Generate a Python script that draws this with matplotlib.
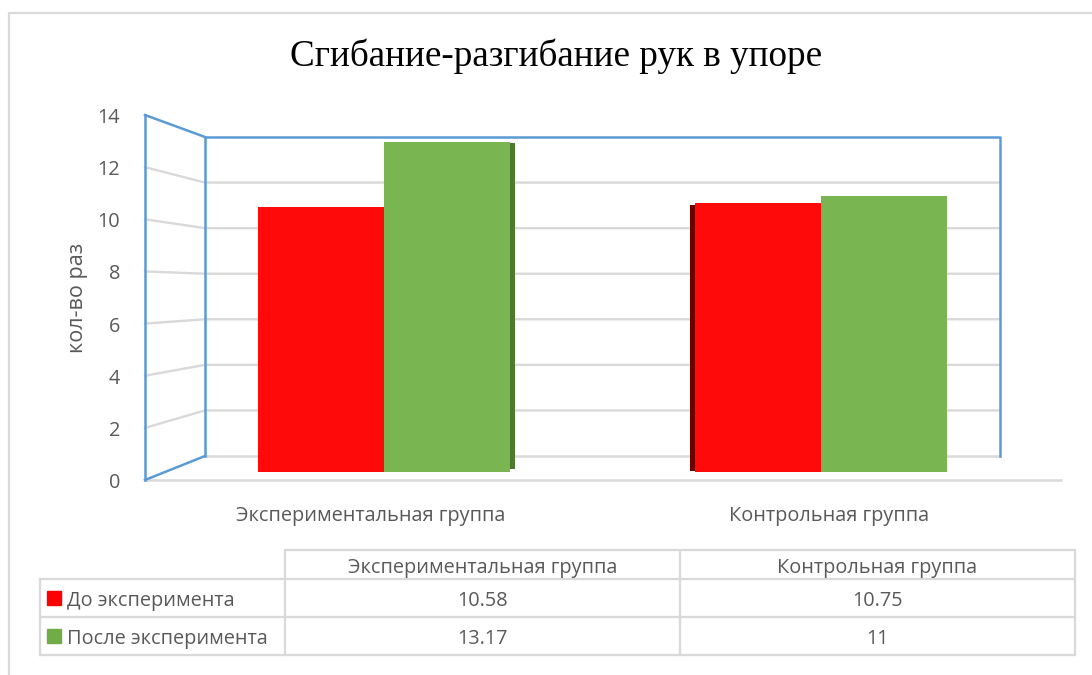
import matplotlib
matplotlib.use("Agg")
import matplotlib.pyplot as plt
from matplotlib.lines import Line2D
from matplotlib.patches import Rectangle

# ---------------- data ----------------
categories = ['Экспериментальная группа', 'Контрольная группа']
series_names = ['До эксперимента', 'После эксперимента']
before = [10.58, 10.75]
after = [13.17, 11]
before_labels = ['10.58', '10.75']
after_labels = ['13.17', '11']
yticks = [0, 2, 4, 6, 8, 10, 12, 14]
title = 'Сгибание-разгибание рук в упоре'
ylabel = 'кол-во раз'

# ---------------- style ----------------
W, H = 1092, 675
RED = '#FE0A0A'
RED_KEY = '#FF0000'
RED_DARK = '#6E0000'
GREEN = '#79B551'
GREEN_KEY = '#70AD47'
GREEN_DARK = '#4E7A30'
BLUE = '#5B9BD5'
GRID = '#D9D9D9'
TXT = '#595959'
FONT = ['Open Sans', 'DejaVu Sans']
FS = 14.3
DY = 3   # vertical text offset (pixels) to match reference baseline

plt.rcParams['font.family'] = FONT

fig = plt.figure(figsize=(W / 100, H / 100), dpi=100)
fig.patch.set_facecolor('white')

# pixel-space background axes
bg = fig.add_axes([0, 0, 1, 1])
bg.set_xlim(0, W)
bg.set_ylim(H, 0)
bg.axis('off')

# perspective geometry (pixels)
FX = 145          # front-left edge x
BX0, BX1 = 205, 1000   # back wall x-range
FRONT0, FRONT14 = 480, 115
BACK0, BACK14 = 456, 137
YMAX = 14


def yf(v):
    return FRONT0 - (FRONT0 - FRONT14) * v / YMAX


def yb(v):
    return BACK0 - (BACK0 - BACK14) * v / YMAX


# outer chart border
bg.add_line(Line2D([9, 9, W], [H, 13, 13], color=GRID, lw=1.6))

# gridlines
for v in yticks[1:-1]:
    bg.add_line(Line2D([FX, BX0, BX1], [yf(v), yb(v), yb(v)], color=GRID, lw=1.7, zorder=1))
# floor
bg.add_line(Line2D([FX, 1061], [yf(0), yf(0)], color=GRID, lw=1.8, zorder=1))
bg.add_line(Line2D([BX0, BX1], [yb(0), yb(0)], color=GRID, lw=1.8, zorder=1))
# walls (blue)
bw = 1.8
bg.add_line(Line2D([FX, FX], [yf(0), yf(YMAX)], color=BLUE, lw=bw, zorder=2))
bg.add_line(Line2D([FX, BX0], [yf(YMAX), yb(YMAX)], color=BLUE, lw=bw, zorder=2))
bg.add_line(Line2D([FX, BX0], [yf(0), yb(0)], color=BLUE, lw=bw, zorder=2))
bg.add_line(Line2D([BX0, BX0], [yb(0), yb(YMAX)], color=BLUE, lw=bw, zorder=2))
bg.add_line(Line2D([BX0, BX1, BX1], [yb(YMAX), yb(YMAX), yb(0)], color=BLUE, lw=bw, zorder=2))

# y tick labels at the front edge
for v in yticks:
    bg.text(120, yf(v) + DY, str(v), ha='right', va='center', fontsize=FS, color=TXT)

# y axis label
bg.text(78, 298, ylabel, rotation=90, ha='center', va='center', fontsize=15.5, color=TXT)

# title
bg.text(556, 56, title, ha='center', va='center', fontsize=26.7,
        family=['Liberation Serif', 'DejaVu Serif'], color='black')

# category labels
cat_x = [371, 829]
for x, c in zip(cat_x, categories):
    bg.text(x, 513 + DY, c, ha='center', va='center', fontsize=FS, color=TXT)

# ---------------- bars axes ----------------
C0, SP = 384, 437   # pixel centre of group 0, pixel spacing between groups
BAR_BOT, BAR_TOP14 = 472, 472 - 25.05 * 14
L, R = 145, 1060
ax = fig.add_axes([L / W, 1 - BAR_BOT / H, (R - L) / W, (BAR_BOT - BAR_TOP14) / H])
ax.set_xlim((L - C0) / SP, (R - C0) / SP)
ax.set_ylim(0, YMAX)
ax.patch.set_alpha(0)
ax.axis('off')

w = 126 / SP
side = 5 / SP
xs = list(range(len(categories)))
ax.bar([x - w / 2 for x in xs], before, width=w, color=RED, zorder=3)
ax.bar([x + w / 2 for x in xs], after, width=w, color=GREEN, zorder=3)
# 3D side shading
ax.bar(xs[0] + w + side / 2, after[0] - 0.15, width=side, bottom=0.1, color=GREEN_DARK, zorder=2)
ax.bar(xs[1] - w - side / 2, before[1] - 0.15, width=side, bottom=0.05, color=RED_DARK, zorder=2)

# ---------------- data table ----------------
TL, C1, C2, TR = 40, 285, 680, 1075
R0, R1, R2, R3 = 550, 579, 617, 655
tw = 1.6
for y in [R0]:
    bg.add_line(Line2D([C1, TR], [y, y], color=GRID, lw=tw))
for y in [R1, R2, R3]:
    bg.add_line(Line2D([TL, TR], [y, y], color=GRID, lw=tw))
bg.add_line(Line2D([TL, TL], [R1, R3], color=GRID, lw=tw))
for x in [C1, C2, TR]:
    bg.add_line(Line2D([x, x], [R0, R3], color=GRID, lw=tw))

col_cx = [(C1 + C2) / 2, (C2 + TR) / 2]
for cx, c in zip(col_cx, categories):
    bg.text(cx, (R0 + R1) / 2 + DY, c, ha='center', va='center', fontsize=FS, color=TXT)

rows = [(R1, R2, series_names[0], RED_KEY, before_labels),
        (R2, R3, series_names[1], GREEN_KEY, after_labels)]
for top, bot, name, col, labs in rows:
    cy = (top + bot) / 2
    bg.add_patch(Rectangle((47, cy - 7), 14, 14, color=col))
    bg.text(67, cy + DY, name, ha='left', va='center', fontsize=FS, color=TXT)
    for cx, lab in zip(col_cx, labs):
        bg.text(cx, cy + DY, lab, ha='center', va='center', fontsize=FS, color=TXT)

fig.savefig('out.png', dpi=100, facecolor='white')
